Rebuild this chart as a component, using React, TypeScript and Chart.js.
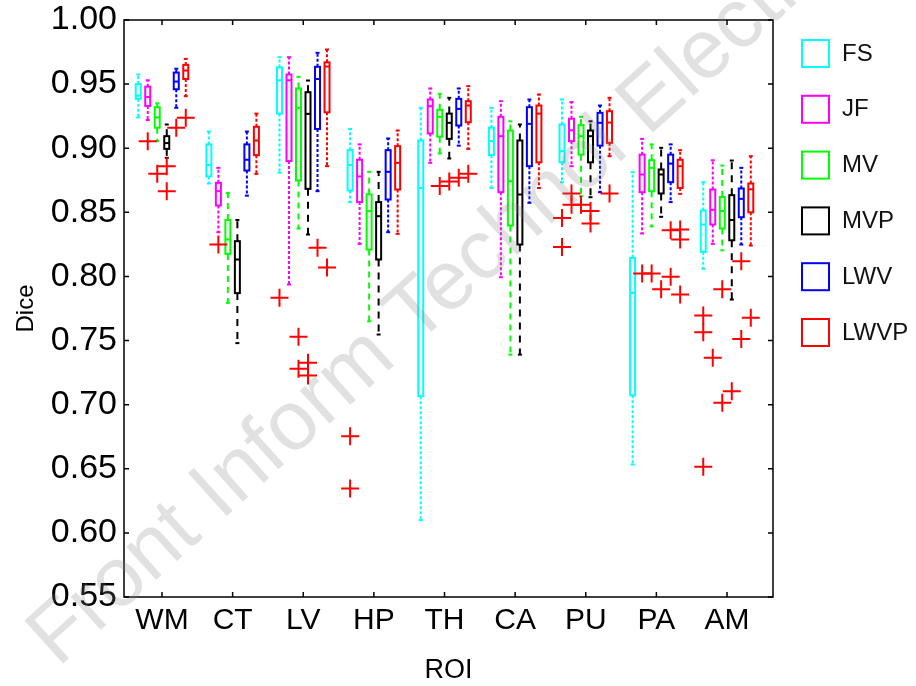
import { useEffect, useRef } from "react";
import { Chart, registerables } from "chart.js";

Chart.register(...registerables);

// ---------- data ----------
const ROIS = ["WM", "CT", "LV", "HP", "TH", "CA", "PU", "PA", "AM"];
const METHODS = ["FS", "JF", "MV", "MVP", "LWV", "LWVP"];
const METHOD_COLORS = ["#00ffff", "#ff00ff", "#00ff00", "#000000", "#0000ff", "#ff0000"];
const Y_TICKS = [0.55, 0.6, 0.65, 0.7, 0.75, 0.8, 0.85, 0.9, 0.95, 1.0];

// per ROI: [lower whisker, Q1, median, Q3, upper whisker]
const FS_BOX = [
  [0.924, 0.9385, 0.941, 0.95, 0.9575],
  [0.8725, 0.878, 0.887, 0.903, 0.913],
  [0.881, 0.927, 0.953, 0.963, 0.971],
  [0.858, 0.867, 0.887, 0.8985, 0.915],
  [0.61, 0.7066, 0.869, 0.906, 0.9315],
  [0.869, 0.8946, 0.9055, 0.916, 0.9315],
  [0.8735, 0.889, 0.8977, 0.9185, 0.938],
  [0.6533, 0.7073, 0.7872, 0.8145, 0.8813],
  [0.806, 0.8192, 0.8405, 0.8514, 0.8735],
];
const JF_BOX = [
  [0.922, 0.933, 0.94, 0.948, 0.953],
  [0.8345, 0.8553, 0.8665, 0.873, 0.8847],
  [0.7937, 0.89, 0.953, 0.9575, 0.971],
  [0.8254, 0.858, 0.878, 0.891, 0.903],
  [0.8886, 0.9115, 0.9328, 0.938, 0.9466],
  [0.7994, 0.8657, 0.9094, 0.9245, 0.9367],
  [0.886, 0.9055, 0.914, 0.923, 0.936],
  [0.8335, 0.8657, 0.8795, 0.895, 0.9073],
  [0.8254, 0.8405, 0.852, 0.8678, 0.8906],
];
const MV_BOX = [
  [0.9055, 0.916, 0.924, 0.932, 0.935],
  [0.7794, 0.8176, 0.8288, 0.844, 0.8652],
  [0.8374, 0.8748, 0.9315, 0.9466, 0.9557],
  [0.765, 0.821, 0.8509, 0.864, 0.8816],
  [0.8959, 0.909, 0.9245, 0.93, 0.9424],
  [0.739, 0.8397, 0.8743, 0.9138, 0.921],
  [0.8626, 0.895, 0.9094, 0.918, 0.9245],
  [0.839, 0.8665, 0.8847, 0.8906, 0.903],
  [0.8204, 0.8374, 0.851, 0.862, 0.8865],
];
const MVP_BOX = [
  [0.8925, 0.8995, 0.904, 0.9094, 0.9185],
  [0.748, 0.787, 0.8132, 0.8275, 0.844],
  [0.8327, 0.8683, 0.9268, 0.9437, 0.9528],
  [0.7547, 0.8132, 0.847, 0.858, 0.8816],
  [0.892, 0.9073, 0.9198, 0.927, 0.9393],
  [0.739, 0.8249, 0.8639, 0.906, 0.9185],
  [0.8618, 0.889, 0.9094, 0.9138, 0.921],
  [0.8465, 0.8647, 0.8795, 0.8834, 0.9003],
  [0.782, 0.8282, 0.844, 0.8634, 0.8904],
];
const LWV_BOX = [
  [0.9315, 0.946, 0.952, 0.959, 0.962],
  [0.863, 0.8826, 0.891, 0.903, 0.913],
  [0.8665, 0.915, 0.954, 0.9635, 0.9744],
  [0.8345, 0.86, 0.8816, 0.8985, 0.9076],
  [0.902, 0.9177, 0.9307, 0.9385, 0.9466],
  [0.8574, 0.886, 0.919, 0.932, 0.938],
  [0.8657, 0.902, 0.9198, 0.9276, 0.9333],
  [0.858, 0.8735, 0.888, 0.895, 0.903],
  [0.8249, 0.8462, 0.8605, 0.8686, 0.8847],
];
const LWVP_BOX = [
  [0.9406, 0.954, 0.9606, 0.965, 0.9697],
  [0.88, 0.8946, 0.906, 0.9167, 0.927],
  [0.886, 0.928, 0.9637, 0.967, 0.977],
  [0.8332, 0.8678, 0.8886, 0.9016, 0.9138],
  [0.8995, 0.9203, 0.9333, 0.9367, 0.9484],
  [0.869, 0.889, 0.927, 0.9333, 0.9419],
  [0.8938, 0.9042, 0.92, 0.9289, 0.9393],
  [0.8644, 0.869, 0.886, 0.891, 0.8985],
  [0.8241, 0.85, 0.868, 0.8725, 0.8938],
];

// outliers: [ROI index, value]
const FS_OUT = [[2, 0.7833], [3, 0.6754], [3, 0.6346], [6, 0.8455], [6, 0.823], [8, 0.7695], [8, 0.7565], [8, 0.6515]];
const JF_OUT = [[0, 0.9055], [1, 0.825], [6, 0.8647], [6, 0.856], [7, 0.8023], [8, 0.7365]];
const MV_OUT = [[0, 0.88], [2, 0.7529], [2, 0.728], [4, 0.8705], [6, 0.856], [7, 0.8023], [8, 0.79], [8, 0.7014]];
const MVP_OUT = [[0, 0.886], [0, 0.8665], [2, 0.7326], [2, 0.7227], [4, 0.874], [6, 0.851], [6, 0.8413], [7, 0.79], [8, 0.7105]];
const LWV_OUT = [[0, 0.916], [2, 0.8223], [4, 0.877], [7, 0.7997], [7, 0.836], [8, 0.8119], [8, 0.7513]];
const LWVP_OUT = [[0, 0.9237], [2, 0.807], [4, 0.88], [6, 0.8647], [7, 0.7859], [7, 0.8366], [7, 0.8288], [8, 0.7677]];

const BOXES = [FS_BOX, JF_BOX, MV_BOX, MVP_BOX, LWV_BOX, LWVP_BOX];
const OUTLIERS = [FS_OUT, JF_OUT, MV_OUT, MVP_OUT, LWV_OUT, LWVP_OUT];

// ---------- style ----------
const GROUP_STEP = 0.1346; // offset between methods within an ROI (axis units)
const METHOD_OFFSETS = METHODS.map((_, i) => (i - 2.5) * GROUP_STEP);
const WHISKER_DASH = [[3, 2], [3, 2], [6, 5], [7, 6], [3, 2], [3, 2]];
const FONT = "'Liberation Sans', Arial, Helvetica, sans-serif";

const boxPlugin = {
  id: "boxplots",
  beforeDatasetsDraw(chart: any) {
    const { ctx } = chart;
    const xs = chart.scales.x;
    const ys = chart.scales.y;
    const area = chart.chartArea;
    ctx.save();
    ctx.beginPath();
    ctx.rect(area.left, area.top, area.right - area.left, area.bottom - area.top);
    ctx.clip();
    const seg = (x1: number, y1: number, x2: number, y2: number) => {
      ctx.beginPath();
      ctx.moveTo(x1, y1);
      ctx.lineTo(x2, y2);
      ctx.stroke();
    };
    BOXES.forEach((stats, m) => {
      ctx.strokeStyle = METHOD_COLORS[m];
      ctx.lineWidth = 2;
      stats.forEach((s, r) => {
        const cx = xs.getPixelForValue(r + METHOD_OFFSETS[m]);
        const [lo, q1, med, q3, hi] = s.map((v) => ys.getPixelForValue(v));
        ctx.setLineDash(WHISKER_DASH[m]);
        seg(cx, q3, cx, hi);
        seg(cx, q1, cx, lo);
        ctx.setLineDash([]);
        seg(cx - 2, hi, cx + 2, hi);
        seg(cx - 2, lo, cx + 2, lo);
        ctx.strokeRect(cx - 2.5, q3, 5, q1 - q3);
        seg(cx - 2.5, med, cx + 2.5, med);
      });
    });
    ctx.restore();
  },
  afterDraw(chart: any) {
    const { ctx } = chart;
    const area = chart.chartArea;
    const xs = chart.scales.x;
    const ys = chart.scales.y;
    ctx.save();
    // frame
    ctx.strokeStyle = "#000";
    ctx.lineWidth = 1.5;
    ctx.strokeRect(area.left, area.top, area.right - area.left, area.bottom - area.top);
    // inward ticks
    const tl = 5;
    ctx.beginPath();
    xs.ticks.forEach((t: any) => {
      const px = xs.getPixelForValue(t.value);
      ctx.moveTo(px, area.bottom);
      ctx.lineTo(px, area.bottom - tl);
      ctx.moveTo(px, area.top);
      ctx.lineTo(px, area.top + tl);
    });
    ys.ticks.forEach((t: any) => {
      const py = ys.getPixelForValue(t.value);
      ctx.moveTo(area.left, py);
      ctx.lineTo(area.left + tl, py);
      ctx.moveTo(area.right, py);
      ctx.lineTo(area.right - tl, py);
    });
    ctx.stroke();
    // legend
    const lx = area.right + 29;
    const ly0 = 40;
    const step = 55.8;
    ctx.font = `24px ${FONT}`;
    ctx.textBaseline = "middle";
    ctx.textAlign = "left";
    METHODS.forEach((name, i) => {
      const y = ly0 + i * step;
      ctx.strokeStyle = METHOD_COLORS[i];
      ctx.lineWidth = 2;
      ctx.strokeRect(lx, y, 27, 27);
      ctx.fillStyle = "#111";
      ctx.fillText(name, lx + 40, y + 14);
    });
    // watermark
    ctx.translate(58, 668);
    ctx.rotate((-42 * Math.PI) / 180);
    ctx.font = `84px ${FONT}`;
    ctx.fillStyle = "rgba(128,128,128,0.24)";
    ctx.textBaseline = "alphabetic";
    ctx.fillText("Front Inform Technol Electron Eng", 0, 0);
    ctx.restore();
  },
};

export default function App() {
  const ref = useRef<HTMLCanvasElement>(null);
  useEffect(() => {
    if (!ref.current) return;
    const datasets = METHODS.map((name, m) => ({
      label: name,
      data: OUTLIERS[m].map(([r, v]) => ({ x: r + METHOD_OFFSETS[m], y: v })),
      pointStyle: "cross",
      pointRadius: 9,
      pointHoverRadius: 9,
      borderColor: "#ff0000",
      backgroundColor: "#ff0000",
      borderWidth: 2,
      showLine: false,
    }));
    const chart = new Chart(ref.current, {
      type: "scatter",
      data: { datasets },
      options: {
        animation: false,
        responsive: false,
        devicePixelRatio: 1,
        layout: { padding: { left: 0, right: 143, top: 20, bottom: 0 } },
        plugins: { legend: { display: false }, tooltip: { enabled: false } },
        scales: {
          x: {
            type: "linear",
            min: -0.538,
            max: 8.651,
            grid: { display: false, drawTicks: false, tickLength: 0 },
            border: { display: false },
            afterBuildTicks: (scale: any) => {
              scale.ticks = ROIS.map((_, i) => ({ value: i }));
            },
            afterFit: (scale: any) => {
              scale.height = 89;
              scale.paddingLeft = 0;
              scale.paddingRight = 0;
            },
            ticks: {
              autoSkip: false,
              maxRotation: 0,
              padding: 6,
              color: "#000",
              font: { family: FONT, size: 30 },
              callback: (v: any) => ROIS[v] ?? "",
            },
            title: {
              display: true,
              text: "ROI",
              color: "#000",
              font: { family: FONT, size: 27, lineHeight: 1 },
              padding: { top: 0, bottom: 2 },
            },
          },
          y: {
            type: "linear",
            min: 0.55,
            max: 1.0,
            grid: { display: false, drawTicks: false, tickLength: 0 },
            border: { display: false },
            afterBuildTicks: (scale: any) => {
              scale.ticks = Y_TICKS.map((v) => ({ value: v }));
            },
            afterFit: (scale: any) => {
              scale.width = 124;
              scale.paddingTop = 0;
              scale.paddingBottom = 0;
            },
            ticks: {
              padding: 7,
              color: "#000",
              font: { family: FONT, size: 34 },
              callback: (v: any) => Number(v).toFixed(2),
            },
            title: {
              display: true,
              text: "Dice",
              color: "#000",
              font: { family: FONT, size: 24, lineHeight: 1 },
              padding: { top: 14, bottom: 0 },
            },
          },
        },
      } as any,
      plugins: [boxPlugin],
    });
    return () => chart.destroy();
  }, []);
  return (
    <div style={{ position: "absolute", left: 0, top: 0, width: 916, height: 686, background: "#fff" }}>
      <canvas ref={ref} width={916} height={686} style={{ display: "block", width: 916, height: 686 }} />
    </div>
  );
}
